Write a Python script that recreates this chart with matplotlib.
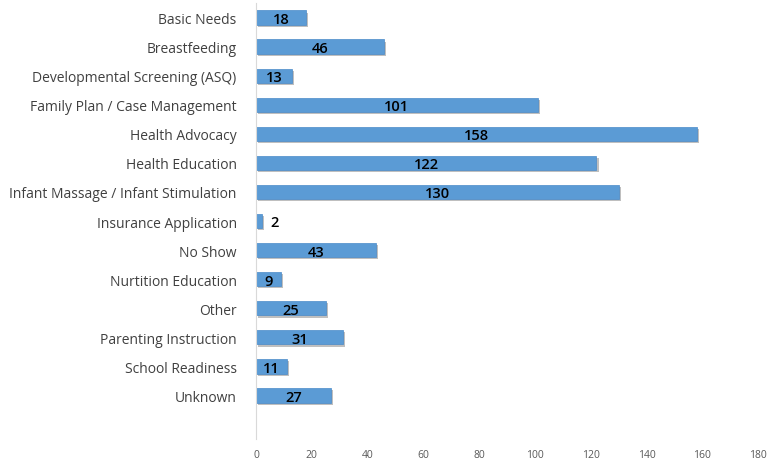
import numpy as np
import matplotlib.pyplot as plt
import matplotlib.patheffects as pe

categories = ["Basic Needs", "Breastfeeding", "Developmental Screening (ASQ)",
              "Family Plan / Case Management", "Health Advocacy", "Health Education",
              "Infant Massage / Infant Stimulation", "Insurance Application", "No Show",
              "Nurtition Education", "Other", "Parenting Instruction",
              "School Readiness", "Unknown"]
values = [18, 46, 13, 101, 158, 122, 130, 2, 43, 9, 25, 31, 11, 27]
xticks = [0, 20, 40, 60, 80, 100, 120, 140, 160, 180]

plt.rcParams['font.family'] = ['Open Sans', 'DejaVu Sans']

fig = plt.figure(figsize=(7.69, 4.64), dpi=100)
ax = fig.add_axes([0.333, 0.052, 0.653, 0.939])

ys = np.arange(len(categories))
bars = ax.barh(ys, values, height=0.5, color='#5B9BD5', edgecolor='#4A8AC8', linewidth=0.5)
for b in bars:
    b.set_path_effects([pe.SimplePatchShadow(offset=(1.5, -1.5), shadow_rgbFace='gray', alpha=0.5),
                        pe.Normal()])

for y, v in zip(ys, values):
    if v < 5:
        ax.text(v + 3, y + 0.05, str(v), ha='left', va='center', fontsize=10.5, fontweight='semibold', color='black')
    else:
        ax.text(v / 2, y + 0.05, str(v), ha='center', va='center', fontsize=10.5, fontweight='semibold', color='black')

ax.set_xlim(0, 180)
ax.set_ylim(14.5, -0.5)
ax.set_yticks(ys)
ax.set_yticklabels(categories, fontsize=10, color='#404040')
ax.set_xticks(xticks)
ax.set_xticklabels([str(t) for t in xticks], fontsize=7.5, color='#595959')
ax.tick_params(axis='both', length=0)
ax.tick_params(axis='x', pad=7)
ax.tick_params(axis='y', pad=14)
for s in ['top', 'right', 'bottom']:
    ax.spines[s].set_visible(False)
ax.spines['left'].set_color('#D9D9D9')

fig.savefig('out.png', dpi=100)
